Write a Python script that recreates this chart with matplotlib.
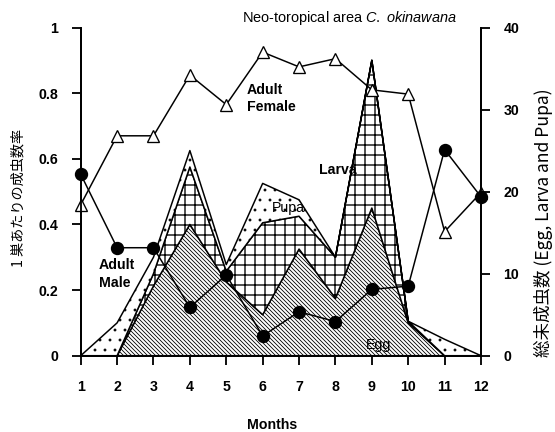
import numpy as np
import matplotlib
matplotlib.use("Agg")
import matplotlib.pyplot as plt

plt.rcParams['font.family'] = ['Liberation Sans', 'Noto Sans CJK JP', 'DejaVu Sans']
plt.rcParams['mathtext.fontset'] = 'custom'
plt.rcParams['mathtext.it'] = 'Liberation Sans:italic'
plt.rcParams['mathtext.rm'] = 'Liberation Sans'

months = [1, 2, 3, 4, 5, 6, 7, 8, 9, 10, 11, 12]

# adult rates per nest (left axis)
adult_female = [0.46, 0.67, 0.67, 0.855, 0.765, 0.925, 0.88, 0.905, 0.81, 0.797, 0.378, 0.497]
adult_male = [0.553, 0.329, 0.329, 0.147, 0.246, 0.06, 0.134, 0.104, 0.202, 0.212, 0.628, 0.484]

# immature counts (right axis), stacked egg -> larva -> pupa
egg = [0, 0, 8.5, 16, 9, 5, 13, 7, 18, 4, 0, 0]
larva = [0, 0, 1.5, 7, 1.3, 11.2, 4, 5, 18, 0.2, 0, 0]
pupa = [0, 4, 2, 2, 0.8, 4.8, 2, 0, 0, 0, 2, 0]

left_ticks = [0, 0.2, 0.4, 0.6, 0.8, 1]
left_labels = ["0", "0.2", "0.4", "0.6", "0.8", "1"]
right_ticks = [0, 10, 20, 30, 40]

egg = np.array(egg)
el = egg + np.array(larva)
elp = el + np.array(pupa)

fig = plt.figure(figsize=(555 / 120, 432 / 120), dpi=120)
ax = fig.add_axes([80.7 / 555, 1 - 355.7 / 432, (481 - 80.7) / 555, (355.7 - 27.5) / 432])
ax2 = ax.twinx()

lw = 0.9
with plt.rc_context({'hatch.linewidth': 0.5}):
    ax2.fill_between(months, 0, egg, facecolor='white', edgecolor='black',
                     hatch='\\' * 10, linewidth=lw, zorder=1)
with plt.rc_context({'hatch.linewidth': 0.8}):
    ax2.fill_between(months, egg, el, facecolor='white', edgecolor='black',
                     hatch='++', linewidth=lw, zorder=2)
with plt.rc_context({'hatch.linewidth': 0.5}):
    ax2.fill_between(months, el, elp, facecolor='white', edgecolor='black',
                     hatch='..', linewidth=lw, zorder=3)

ax2.set_ylim(0, 40)
ax2.set_yticks(right_ticks)
ax2.set_xlim(1, 12)

ax.set_zorder(ax2.get_zorder() + 1)
ax.patch.set_visible(False)

ax.plot(months, adult_female, color='black', linewidth=lw, marker='^', markersize=7.5,
        markerfacecolor='white', markeredgecolor='black', markeredgewidth=0.8, clip_on=False)
ax.plot(months, adult_male, color='black', linewidth=lw, marker='o', markersize=7,
        markerfacecolor='black', markeredgecolor='black', clip_on=False)

ax.set_xlim(1, 12)
ax.set_ylim(0, 1)
ax.set_xticks(months)
ax.set_yticks(left_ticks)
ax.set_yticklabels(left_labels)

for a in (ax, ax2):
    a.spines['top'].set_visible(False)
    for s in a.spines.values():
        s.set_linewidth(1.1)
    a.tick_params(width=1.1, length=5.4, labelsize=8.5, pad=8)
    for lab in a.get_yticklabels() + a.get_xticklabels():
        lab.set_fontweight('bold')
ax.tick_params(axis='x', length=5.4, pad=9)

ax.text(5.56, 0.831, "Adult\nFemale", fontsize=8.5, fontweight='bold', va='top', ha='left', linespacing=1.3)
ax.text(1.50, 0.297, "Adult\nMale", fontsize=8.5, fontweight='bold', va='top', ha='left', linespacing=1.3)
ax.text(7.54, 0.566, "Larva", fontsize=8.5, fontweight='bold', va='center', ha='left')
ax.text(6.25, 0.45, "Pupa", fontsize=8.5, va='center', ha='left')
ax.text(8.85, 0.033, "Egg", fontsize=8.5, va='center', ha='left')
ax.text(8.39, 1.029, r"Neo-toropical area $\it{C.\ okinawana}$", fontsize=8.7, ha='center',
        va='center', clip_on=False)

fig.text(18 / 555, 1 - 198 / 432, "1 巣あたりの成虫数率", rotation=90, ha='center', va='center',
         fontsize=8.5, family=['Noto Sans CJK JP', 'DejaVu Sans'])
fig.text(543 / 555, 1 - 223 / 432, "総未成虫数 (Egg, Larva and Pupa)", rotation=90, ha='center',
         va='center', fontsize=10.5, family=['Noto Sans CJK JP', 'DejaVu Sans'])
fig.text(272 / 555, 1 - 425 / 432, "Months", ha='center', va='center', fontsize=8.5, fontweight='bold')

fig.savefig("out.png", dpi=120)
